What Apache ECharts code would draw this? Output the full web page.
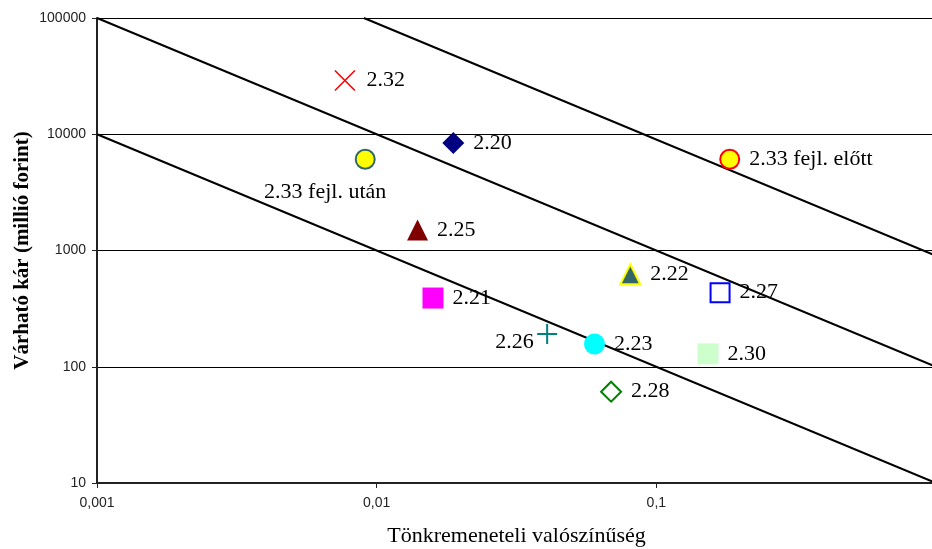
<!DOCTYPE html>
<html>
<head>
<meta charset="utf-8">
<script src="https://cdn.jsdelivr.net/npm/echarts@6/dist/echarts.min.js"></script>
<style>
  html, body { margin: 0; padding: 0; background: #fff; }
  #chart { width: 932px; height: 549px; }
</style>
</head>
<body>
<div id="chart"></div>
<script>
// Risk points: failure probability vs. expected loss (million HUF)
const pointNames = ['2.32', '2.20', '2.33 fejl. után', '2.33 fejl. előtt', '2.25', '2.22',
                    '2.21', '2.27', '2.26', '2.23', '2.30', '2.28'];
const probability = [0.0077, 0.0188, 0.0091, 0.183, 0.014, 0.0807,
                     0.0159, 0.169, 0.0407, 0.0601, 0.153, 0.0689];
const expectedLoss = [29000, 8400, 6100, 6100, 1500, 624,
                      390, 434, 191, 157, 129, 61];

// Iso-risk lines (start/end points)
const isoStartP = [0.001, 0.001, 0.009];
const isoStartLoss = [10000, 100000, 100000];
const isoEndP = [1, 1, 1];
const isoEndLoss = [10, 100, 900];

// Axis ticks
const yTicks = [10, 100, 1000, 10000, 100000];
const xTickLabels = ['0,001', '0,01', '0,1'];

const X_PATH = 'path://M0,0L10,10M10,0L0,10';
const PLUS_PATH = 'path://M5,0L5,10M0,5L10,5';

const markerStyles = [
  { symbol: X_PATH, size: 20, itemStyle: { color: 'none', borderColor: '#ff0000', borderWidth: 1.6 } },
  { symbol: 'diamond', size: 22, itemStyle: { color: '#000080' } },
  { symbol: 'circle', size: 19, itemStyle: { color: '#ffff00', borderColor: '#336666', borderWidth: 2 } },
  { symbol: 'circle', size: 19, itemStyle: { color: '#ffff00', borderColor: '#ff0000', borderWidth: 2 } },
  { symbol: 'triangle', size: 21, itemStyle: { color: '#800000' } },
  { symbol: 'triangle', size: 20, itemStyle: { color: '#336666', borderColor: '#ffff00', borderWidth: 2 } },
  { symbol: 'rect', size: 21, itemStyle: { color: '#ff00ff' } },
  { symbol: 'rect', size: 19, itemStyle: { color: '#ffffff', borderColor: '#0000ff', borderWidth: 2 } },
  { symbol: PLUS_PATH, size: 20, itemStyle: { color: 'none', borderColor: '#008080', borderWidth: 2 } },
  { symbol: 'circle', size: 21, itemStyle: { color: '#00ffff' } },
  { symbol: 'rect', size: 21, itemStyle: { color: '#ccffcc' } },
  { symbol: 'diamond', size: 20, itemStyle: { color: '#ffffff', borderColor: '#008000', borderWidth: 2 } }
];

const labelFont = { fontFamily: 'Liberation Serif', fontSize: 22, color: '#000' };

const pointData = pointNames.map((name, i) => {
  const st = markerStyles[i];
  let label = { show: true, position: 'right', distance: 9, formatter: name };
  if (name === '2.26') label = { show: true, position: 'left', distance: 1, offset: [0, 8], formatter: name };
  if (name === '2.33 fejl. után') label = { show: true, position: 'inside', offset: [-40, 33], formatter: name };
  return {
    name: name,
    value: [probability[i], expectedLoss[i]],
    symbol: st.symbol,
    symbolSize: st.size,
    itemStyle: Object.assign({ opacity: 1 }, st.itemStyle),
    label: Object.assign({}, labelFont, label)
  };
});

const lineSeries = isoStartP.map((p, i) => ({
  type: 'line',
  data: [[p, isoStartLoss[i]], [isoEndP[i], isoEndLoss[i]]],
  showSymbol: false,
  symbol: 'none',
  lineStyle: { color: '#000', width: 2 },
  silent: true,
  clip: true,
  z: 1
}));

function fmtX(v) {
  const r = Number(v.toPrecision(6));
  const idx = [0.001, 0.01, 0.1].indexOf(r);
  return idx >= 0 ? xTickLabels[idx] : '';
}
function fmtY(v) {
  const r = Math.round(v);
  return yTicks.indexOf(r) >= 0 ? String(r) : '';
}

const chart = echarts.init(document.getElementById('chart'), null, { renderer: 'canvas' });
chart.setOption({
  animation: false,
  backgroundColor: '#fff',
  grid: { left: 97, width: 839, top: 18, height: 465, containLabel: false, outerBoundsMode: 'none' },
  xAxis: {
    type: 'log', logBase: 10, min: 0.001, max: 1,
    name: 'Tönkremeneteli valószínűség',
    nameLocation: 'middle', nameGap: 42, nameMoveOverlap: false,
    nameTextStyle: { fontFamily: 'Liberation Serif', fontSize: 22, color: '#000' },
    axisLine: { show: true, lineStyle: { color: '#222', width: 2 } },
    axisTick: { show: true, length: 5, lineStyle: { color: '#222', width: 1 } },
    axisLabel: { formatter: fmtX, fontFamily: 'Liberation Sans', fontSize: 14, color: '#222', margin: 13 },
    splitLine: { show: false },
    minorTick: { show: false }
  },
  yAxis: {
    type: 'log', logBase: 10, min: 10, max: 100000,
    name: 'Várható kár (millió forint)',
    nameLocation: 'middle', nameGap: 64, nameMoveOverlap: false,
    nameTextStyle: { fontFamily: 'Liberation Serif', fontSize: 21, fontWeight: 'bold', color: '#000' },
    axisLine: { show: true, lineStyle: { color: '#222', width: 2 } },
    axisTick: { show: true, length: 5, lineStyle: { color: '#222', width: 1 } },
    axisLabel: { formatter: fmtY, fontFamily: 'Liberation Sans', fontSize: 14, color: '#222', margin: 11 },
    splitLine: { show: true, lineStyle: { color: '#000', width: 1 } }
  },
  series: lineSeries.concat([{
    type: 'scatter',
    data: pointData,
    z: 3
  }])
});
</script>
</body>
</html>
